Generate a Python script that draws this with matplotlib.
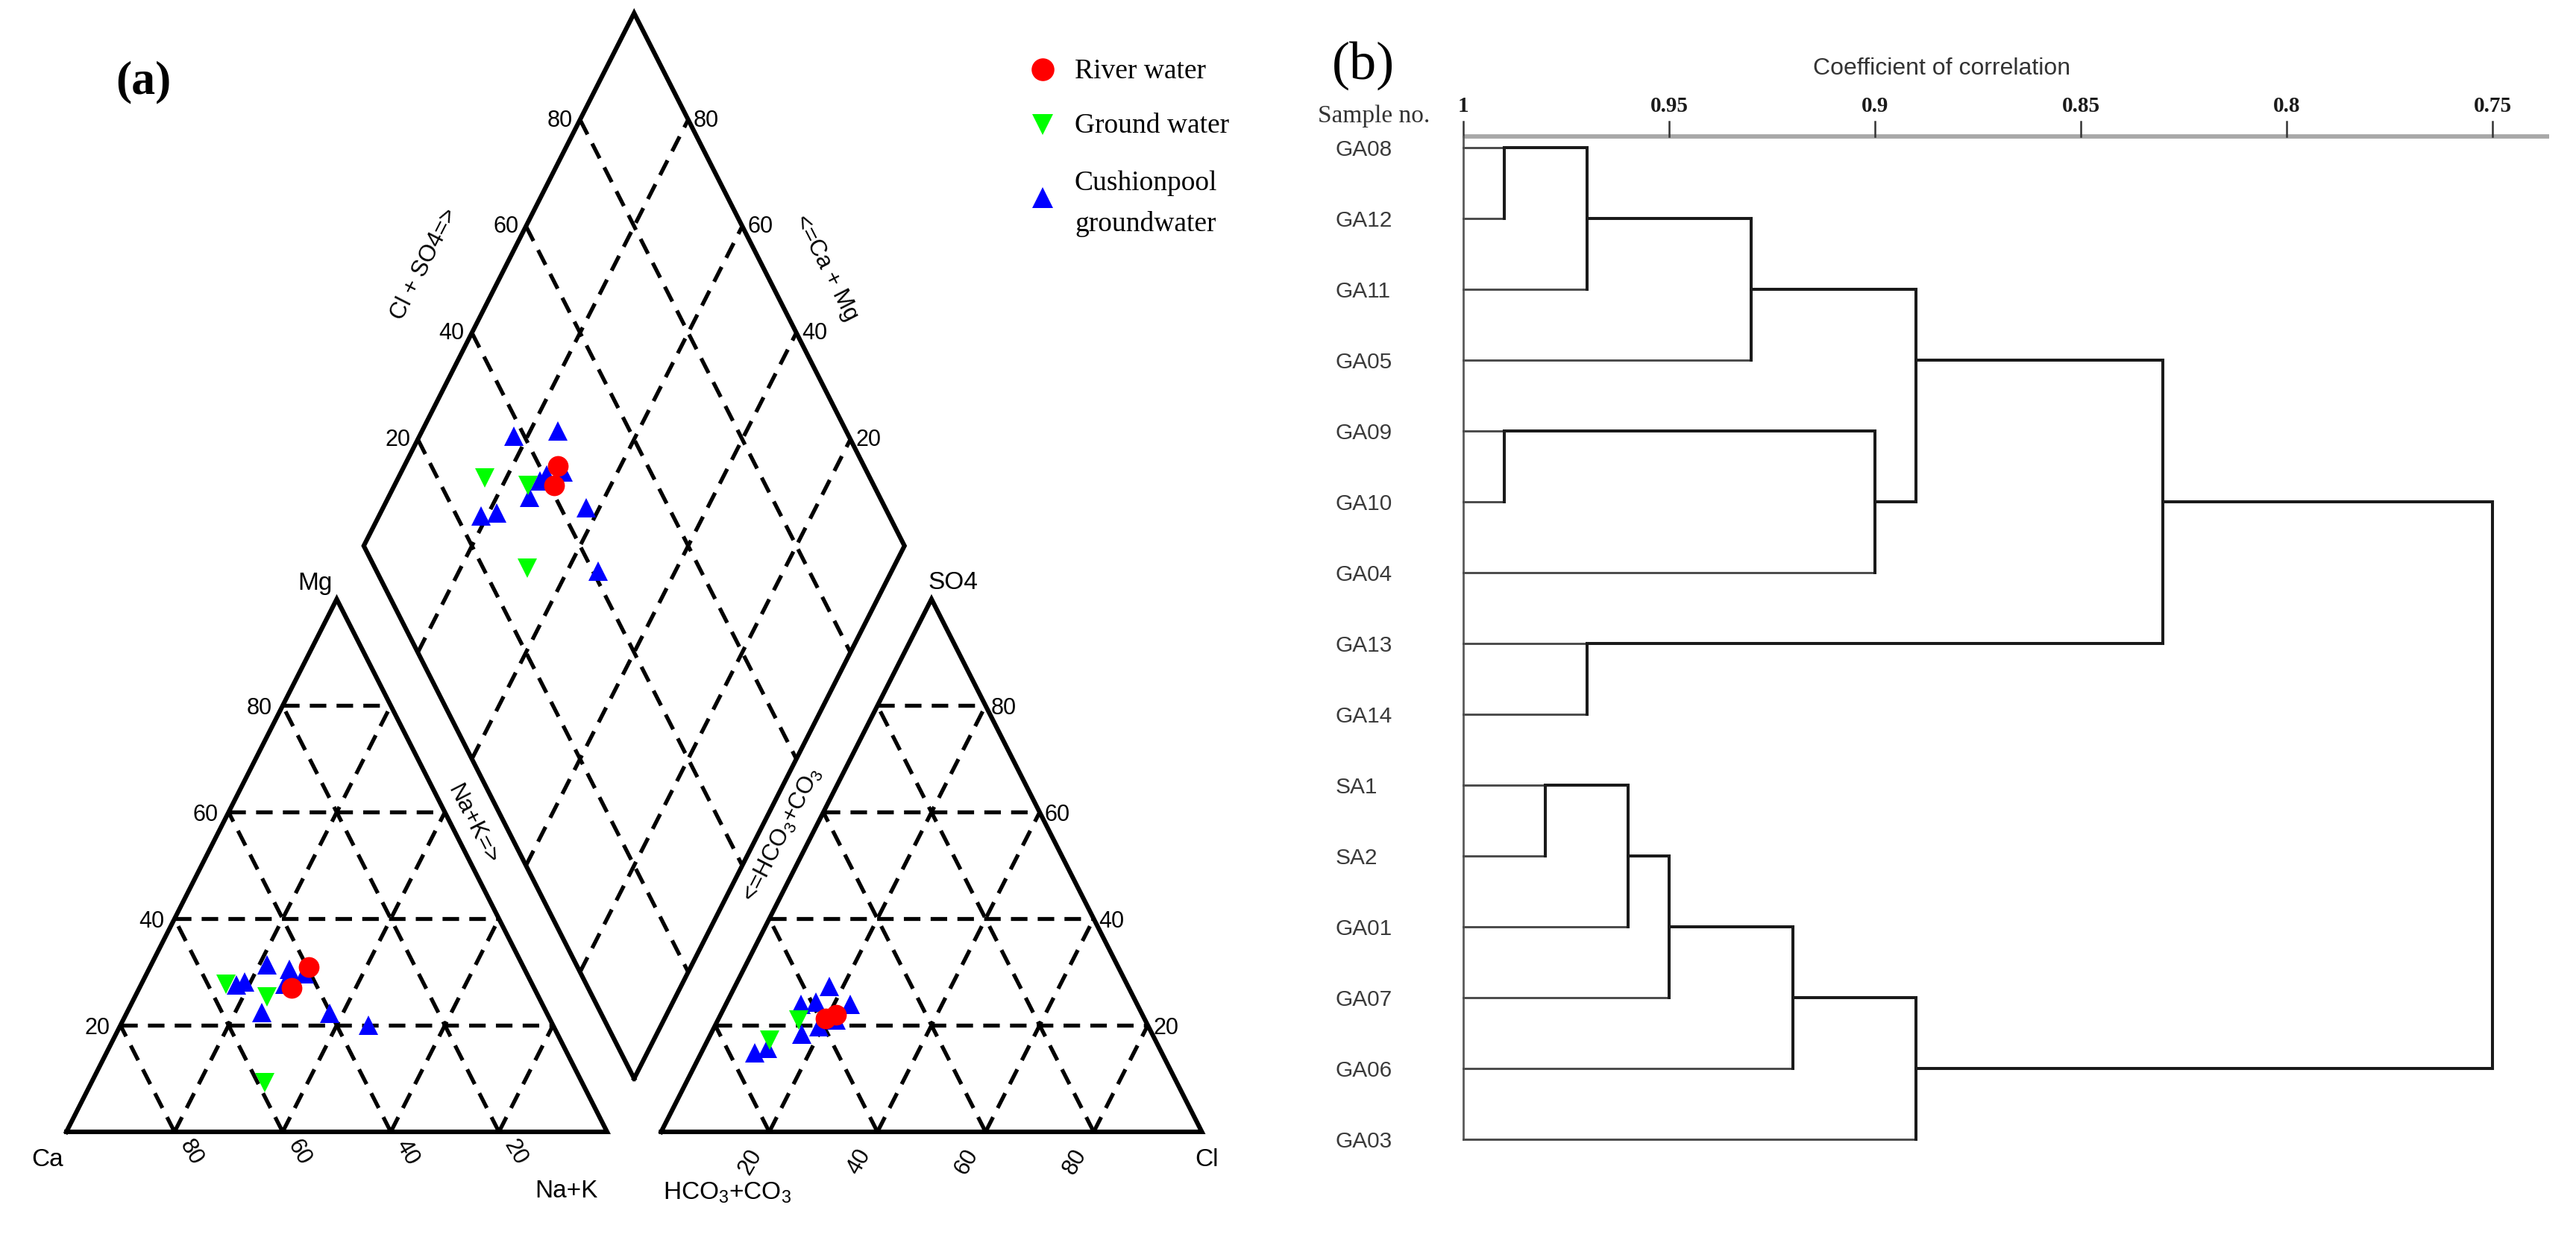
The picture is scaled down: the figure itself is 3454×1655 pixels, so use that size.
import numpy as np
import matplotlib
matplotlib.use('Agg')
import matplotlib.pyplot as plt
from matplotlib import font_manager

# ---------------- data ----------------
# (a) Piper diagram -- cation triangle (% meq): Mg and Na+K
river_mg = [31.0, 27.0]
river_nak = [29.3, 28.2]
ground_mg = [27.7, 25.3, 9.2]
ground_nak = [15.7, 24.4, 32.1]
cushion_mg = [31.3, 30.5, 28.1, 27.6, 22.4, 22.2, 20.0, 29.7, 27.7]
cushion_nak = [21.5, 26.0, 18.9, 17.6, 24.9, 37.6, 45.8, 29.2, 26.5]

# anion triangle (% meq): SO4 and Cl
river_so4 = [21.3, 22.0]
river_cl = [19.7, 21.3]
ground_so4 = [21.0, 17.2]
ground_cl = [15.0, 11.4]
cushion_so4 = [27.3, 24.3, 23.9, 23.9, 18.3, 14.9, 15.7, 21.0, 19.8]
cushion_cl = [17.5, 16.5, 13.9, 23.0, 16.9, 9.9, 11.8, 21.9, 19.3]

# diamond: Na+K and Cl+SO4
river_d_nak = [28.4, 29.6]
river_d_clso4 = [43.4, 40.9]
ground_d_nak = [16.0, 24.7, 32.3]
ground_d_clso4 = [28.7, 36.0, 28.1]
cushion_d_nak = [17.4, 25.1, 27.2, 26.5, 26.1, 18.9, 21.6, 37.6, 45.7, 29.9]
cushion_d_clso4 = [38.0, 46.6, 40.5, 38.7, 35.2, 24.5, 27.7, 44.7, 40.9, 43.8]

grid_values = [20, 40, 60, 80]
legend_labels = ['River water', 'Ground water', 'Cushionpool', 'groundwater']

# (b) dendrogram
sample_names = ['GA08', 'GA12', 'GA11', 'GA05', 'GA09', 'GA10', 'GA04', 'GA13',
                'GA14', 'SA1', 'SA2', 'GA01', 'GA07', 'GA06', 'GA03']
# node ids: 0..14 leaves, 15.. successive merges
merge_a = [0, 15, 16, 4, 18, 17, 7, 20, 9, 23, 24, 25, 26, 22]
merge_b = [1, 2, 3, 5, 6, 19, 8, 21, 10, 11, 12, 13, 14, 27]
merge_coef = [0.99, 0.97, 0.93, 0.99, 0.90, 0.89, 0.97, 0.83, 0.98, 0.96, 0.95, 0.92, 0.89, 0.75]
corr_ticks = [1.0, 0.95, 0.9, 0.85, 0.8, 0.75]
corr_tick_labels = ['1', '0.95', '0.9', '0.85', '0.8', '0.75']

# ---------------- style ----------------
plt.rcParams['mathtext.fontset'] = 'custom'
plt.rcParams['mathtext.rm'] = 'Liberation Sans'
plt.rcParams['mathtext.it'] = 'Liberation Sans:italic'
plt.rcParams['mathtext.bf'] = 'Liberation Sans:bold'
plt.rcParams['mathtext.default'] = 'rm'

available = {f.name for f in font_manager.fontManager.ttflist}
if 'Liberation Sans Narrow' in available:
    NARROW, LEAF_FS, COEF_FS = 'Liberation Sans Narrow', 25, 27
else:
    NARROW, LEAF_FS, COEF_FS = 'Liberation Sans', 21.5, 23
SANS = 'Liberation Sans'
SERIF = 'Liberation Serif'

RED, GREEN, BLUE = '#ff0000', '#00ff00', '#0000ff'

FIG_W, FIG_H = 3454, 1655
fig = plt.figure(figsize=(FIG_W / 100, FIG_H / 100), dpi=100)

# ================= panel (a) : Piper diagram =================
ax = fig.add_axes([0, 0, 1, 1])
X0, Y0, SX, SY = 89, 1518, 725, 825


def pa(X, Y):
    return (X - X0) / SX, (Y0 - Y) / SY


ax.set_xlim(pa(0, 0)[0], pa(FIG_W, 0)[0])
ax.set_ylim(pa(0, FIG_H)[1], pa(0, 0)[1])
ax.axis('off')

G = 0.1
H = np.sqrt(3) / 2


def cation_xy(mg, nak):
    m = np.asarray(mg, float) / 100
    n = np.asarray(nak, float) / 100
    return n + m / 2, m * H


def anion_xy(so4, cl):
    s = np.asarray(so4, float) / 100
    c = np.asarray(cl, float) / 100
    return 1 + G + c + s / 2, s * H


def diamond_xy(nak, clso4):
    x = np.asarray(clso4, float) / 100
    y = 1 - np.asarray(nak, float) / 100
    return 1 + G / 2 + 0.5 * (x - y), G * H + H * (x + y)


def off(pt, dx, dy):
    return pt[0] + dx / SX, pt[1] - dy / SY


EDGE = dict(color='black', lw=4.4, solid_joinstyle='miter', zorder=2)
DASH = dict(color='black', lw=3.8, linestyle=(0, (4.2, 2.6)), zorder=1)

# outlines
ax.plot(*cation_xy([0, 0, 100, 0], [0, 100, 0, 0]), **EDGE)
ax.plot(*anion_xy([0, 0, 100, 0], [0, 100, 0, 0]), **EDGE)
ax.plot(*diamond_xy([100, 100, 0, 0, 100], [0, 100, 100, 0, 0]), **EDGE)

# grids
for g in grid_values:
    ax.plot(*cation_xy([g, g], [0, 100 - g]), **DASH)
    ax.plot(*cation_xy([0, 100 - g], [g, g]), **DASH)
    ax.plot(*cation_xy([0, 100 - g], [100 - g, 0]), **DASH)
    ax.plot(*anion_xy([g, g], [0, 100 - g]), **DASH)
    ax.plot(*anion_xy([0, 100 - g], [g, g]), **DASH)
    ax.plot(*anion_xy([0, 100 - g], [100 - g, 0]), **DASH)
    ax.plot(*diamond_xy([0, 100], [g, g]), **DASH)
    ax.plot(*diamond_xy([g, g], [0, 100]), **DASH)

TICK = dict(fontsize=22, family=SANS, color='black')
for g in grid_values:
    ax.text(*off(cation_xy(g, 0), -14, 4), str(g), ha='right', va='center', **TICK)
    ax.text(*off(cation_xy(0, 100 - g), 22, 28), str(g), rotation=-60,
            rotation_mode='anchor', ha='center', va='center', **TICK)
    ax.text(*off(anion_xy(g, 100 - g), 7, 4), str(g), ha='left', va='center', **TICK)
    ax.text(*off(anion_xy(0, g), -25, 40), str(g), rotation=60,
            rotation_mode='anchor', ha='center', va='center', **TICK)
    ax.text(*off(diamond_xy(0, g), -10, 1), str(g), ha='right', va='center', **TICK)
    ax.text(*off(diamond_xy(100 - g, 100), 7, 1), str(g), ha='left', va='center', **TICK)

LAB = dict(fontsize=24, family=SANS, color='black', ha='center', va='center')
ax.text(*pa(422, 782), 'Mg', **LAB)
ax.text(*pa(1278, 781), 'SO4', **LAB)
ax.text(*pa(64, 1556), 'Ca', **LAB)
ax.text(*pa(759, 1598), 'Na+K', **LAB)
ax.text(*pa(975, 1600), 'HCO$_3$+CO$_3$', **LAB)
ax.text(*pa(1618, 1556), 'Cl', **LAB)
ROT = 63
AXL = dict(rotation_mode='anchor', fontsize=22.5, family=SANS, ha='center', va='center')
ax.text(*pa(569, 354), 'Cl + SO4=>', rotation=ROT, **AXL)
ax.text(*pa(1108, 359), '<=Ca + Mg', rotation=-ROT, **AXL)
ax.text(*pa(634, 1106), 'Na+K=>', rotation=-ROT, **AXL)
ax.text(*pa(1049, 1120), '<=HCO$_3$+CO$_3$', rotation=ROT, **AXL)

# data points
MK = dict(linestyle='none', markeredgewidth=0, zorder=5)
ax.plot(*cation_xy(cushion_mg, cushion_nak), marker='^', ms=19, color=BLUE, **MK)
ax.plot(*cation_xy(ground_mg, ground_nak), marker='v', ms=19, color=GREEN, **MK)
ax.plot(*cation_xy(river_mg, river_nak), marker='o', ms=20, color=RED, **MK)
ax.plot(*anion_xy(cushion_so4, cushion_cl), marker='^', ms=19, color=BLUE, **MK)
ax.plot(*anion_xy(ground_so4, ground_cl), marker='v', ms=19, color=GREEN, **MK)
ax.plot(*anion_xy(river_so4, river_cl), marker='o', ms=20, color=RED, **MK)
ax.plot(*diamond_xy(cushion_d_nak, cushion_d_clso4), marker='^', ms=19, color=BLUE, **MK)
ax.plot(*diamond_xy(ground_d_nak, ground_d_clso4), marker='v', ms=19, color=GREEN, **MK)
ax.plot(*diamond_xy(river_d_nak, river_d_clso4), marker='o', ms=20, color=RED, **MK)

# legend (manual)
ax.plot(*pa(1398, 93), marker='o', ms=22, color=RED, **MK)
ax.plot(*pa(1398, 167), marker='v', ms=20, color=GREEN, **MK)
ax.plot(*pa(1398, 265), marker='^', ms=20, color=BLUE, **MK)
LEG = dict(fontsize=27, family=SERIF, color='black', ha='left', va='baseline')
ax.text(*pa(1441, 105), legend_labels[0], **LEG)
ax.text(*pa(1441, 178), legend_labels[1], **LEG)
ax.text(*pa(1441, 255), legend_labels[2], **LEG)
ax.text(*pa(1441, 310), legend_labels[3], **LEG)

ax.text(*pa(192, 110), '(a)', fontsize=46, fontweight='bold', family=SERIF,
        ha='center', va='center')

# ================= panel (b) : dendrogram =================
axb = fig.add_axes([0, 0, 1, 1])
axb.axis('off')
BX0, BY0, BSX, BSY = 1962, 198, 5520, 95


def pb(X, Y):
    return 1 - (X - BX0) / BSX, (Y - BY0) / BSY


axb.set_xlim(pb(0, 0)[0], pb(FIG_W, 0)[0])
axb.set_ylim(pb(0, FIG_H)[1], pb(0, 0)[1])

n = len(sample_names)
r_axis = pb(0, 183)[1]
r_tick = pb(0, 163)[1]
r_lab = pb(0, 143)[1]
c_end = pb(3418, 0)[0]

# top axis
axb.plot([corr_ticks[0], c_end], [r_axis, r_axis], color='#a8a8a8', lw=4.2,
         solid_capstyle='butt', zorder=1)
for c, lab in zip(corr_ticks, corr_tick_labels):
    axb.plot([c, c], [r_axis, r_tick], color='#333333', lw=1.8, zorder=2)
    axb.text(c, r_lab, lab, fontsize=21, fontweight='bold', family=SERIF,
             ha='center', va='center', color='#1a1a1a')

axb.text(*pb(2604, 92), 'Coefficient of correlation', fontsize=COEF_FS, family=NARROW,
         ha='center', va='center', color='#333333')
axb.text(*pb(1842, 156), 'Sample no.', fontsize=24, family=SERIF,
         ha='center', va='center', color='#333333')
axb.text(*pb(1828, 88), '(b)', fontsize=52, family=SERIF, ha='center', va='center')

# leaf labels
c_lab = pb(1791, 0)[0]
for i, name in enumerate(sample_names):
    axb.text(c_lab, i + 0.03, name, fontsize=LEAF_FS, family=NARROW,
             ha='left', va='center', color='#3a3a3a')

# base line
axb.plot([1.0, 1.0], [r_axis, n - 1], color='#5a5a5a', lw=2.0, zorder=2)

rows = list(range(n))
heights = [1.0] * n
for a, b, c in zip(merge_a, merge_b, merge_coef):
    ra, rb = rows[a], rows[b]
    for node, r in ((a, ra), (b, rb)):
        leaf = heights[node] == 1.0
        axb.plot([heights[node], c], [r, r],
                 color='#4a4a4a' if leaf else '#1a1a1a',
                 lw=2.1 if leaf else 2.9, solid_capstyle='projecting', zorder=3)
    axb.plot([c, c], [ra, rb], color='#1a1a1a', lw=2.9,
             solid_capstyle='projecting', zorder=3)
    rows.append((ra + rb) // 2)
    heights.append(c)

fig.savefig('out.png', dpi=100, facecolor='white')
